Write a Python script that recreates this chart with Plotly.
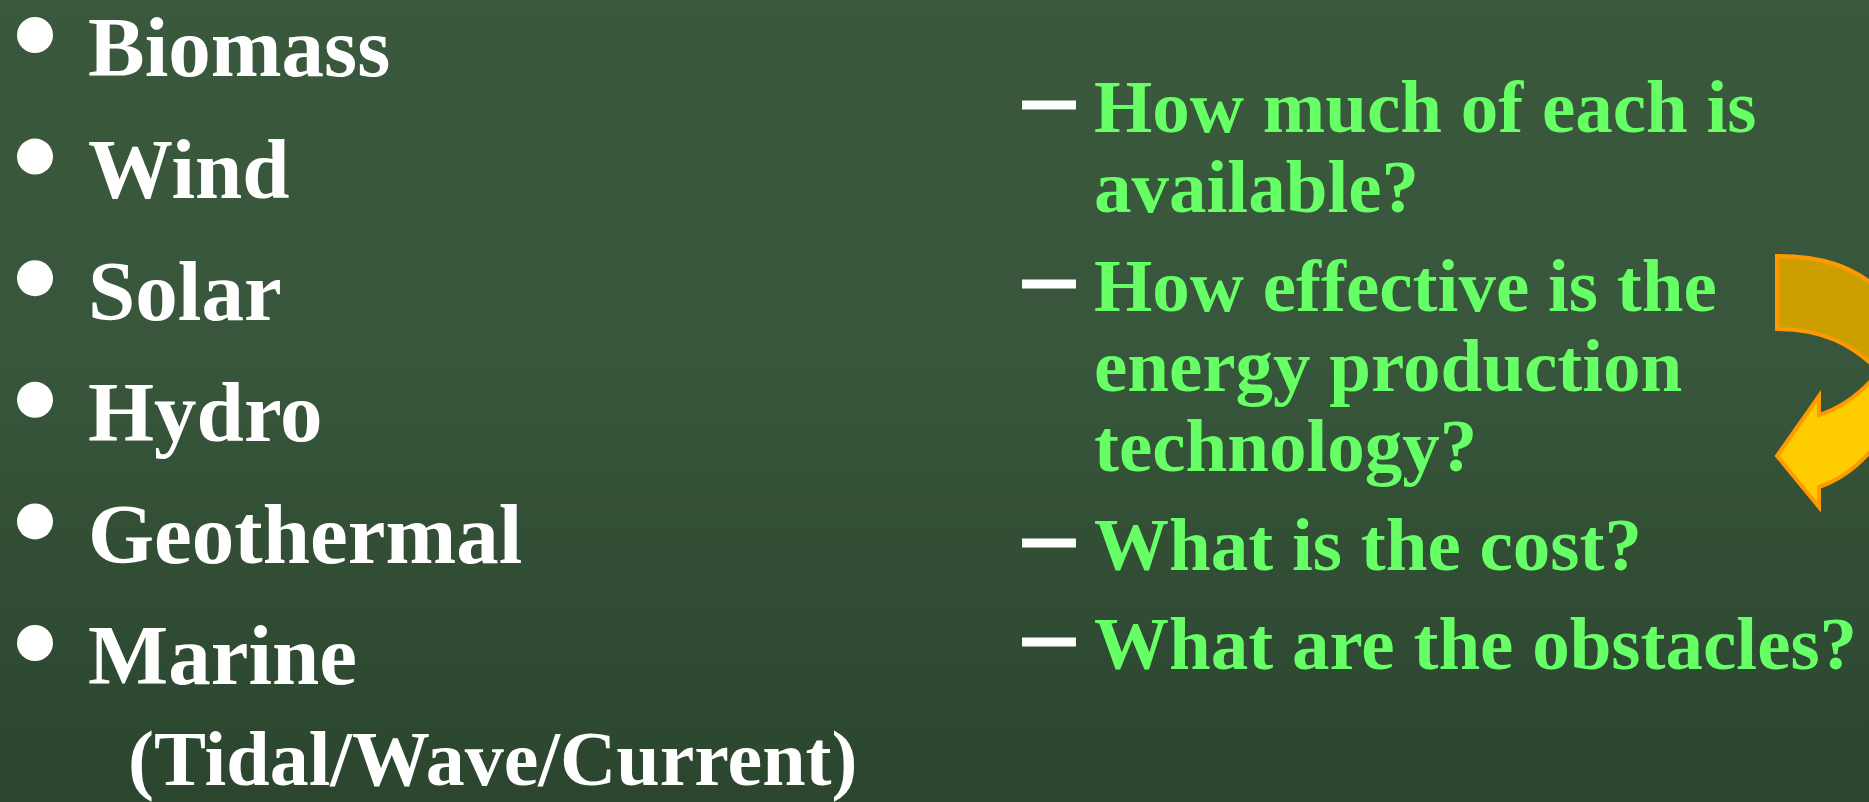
import plotly.graph_objects as go

# ---- content ----
LEFT_ITEMS = ["Biomass", "Wind", "Solar", "Hydro", "Geothermal", "Marine"]
LEFT_SUBLINE = "(Tidal/Wave/Current)"
QUESTIONS = [
    ["How much of each is", "available?"],
    ["How effective is the", "energy production", "technology?"],
    ["What is the cost?"],
    ["What are the obstacles?"],
]

# ---- layout constants (pixels) ----
W, H = 1869, 802
FONT = "Liberation Serif"
LEFT_F = 85
SUB_F = 78
RIGHT_F = 75
LEFT_X = 87
LEFT_BASE0 = 76
LEFT_STEP = 121.6
SUB_X = 127
SUB_BASE = 785
BULLET_X = 35
BULLET_UP = 41
RIGHT_X = 1093
RIGHT_BASE0 = 132
LINE_GAP = 80
ITEM_GAP = 99
DASH_X = 1049
DASH_UP = 27
ASC_DESC = 0.3375  # (ascent - descent)/2 of Liberation Serif

WHITE = "#ffffff"
GREEN = "#66ff66"

fig = go.Figure()

# background gradient
fig.add_trace(go.Scatter(
    x=[0, W, W, 0, 0], y=[0, 0, H, H, 0], mode="lines", fill="toself",
    line=dict(width=0), hoverinfo="skip", showlegend=False,
    fillgradient=dict(type="vertical", start=0, stop=H,
                      colorscale=[[0, "#39583c"], [0.45, "#37563b"], [1, "#2b452f"]]),
))

annotations = []

# left column
left_bases = [LEFT_BASE0 + i * LEFT_STEP for i in range(len(LEFT_ITEMS))]
for txt, b in zip(LEFT_ITEMS, left_bases):
    annotations.append(dict(x=LEFT_X, y=b - ASC_DESC * LEFT_F, text=txt, borderpad=0,
                            xanchor="left", yanchor="middle", showarrow=False,
                            font=dict(family=FONT, size=LEFT_F, color=WHITE, weight="bold")))
annotations.append(dict(x=SUB_X, y=SUB_BASE - ASC_DESC * SUB_F, text=LEFT_SUBLINE, borderpad=0,
                        xanchor="left", yanchor="middle", showarrow=False,
                        font=dict(family=FONT, size=SUB_F, color=WHITE, weight="bold")))
fig.add_trace(go.Scatter(
    x=[BULLET_X] * len(left_bases), y=[b - BULLET_UP for b in left_bases],
    mode="markers", marker=dict(symbol="circle", size=36, color=WHITE, line=dict(width=0)),
    hoverinfo="skip", showlegend=False))

# right column
b = RIGHT_BASE0
dash_ys = []
for qi, lines in enumerate(QUESTIONS):
    if qi > 0:
        b += ITEM_GAP
    dash_ys.append(b - DASH_UP)
    for li, line in enumerate(lines):
        if li > 0:
            b += LINE_GAP
        annotations.append(dict(x=RIGHT_X, y=b - ASC_DESC * RIGHT_F, text=line, borderpad=0,
                                xanchor="left", yanchor="middle", showarrow=False,
                                font=dict(family=FONT, size=RIGHT_F, color=GREEN, weight="bold")))
fig.add_trace(go.Scatter(
    x=[DASH_X] * len(dash_ys), y=dash_ys, mode="markers",
    marker=dict(symbol="line-ew", size=38.5, color=WHITE, line=dict(width=9, color=WHITE)),
    hoverinfo="skip", showlegend=False))

# curved arrow decoration (right edge)
ORANGE = "#ff9900"
back_band = ("M 1777 256 C 1822 256 1852 266 1880 290 "
             "L 1880 372 C 1852 344 1822 329 1777 329 Z")
front_shaft = ("M 1777 456 L 1819 396 L 1819 415 "
               "C 1840 408 1860 396 1880 370 "
               "L 1880 440 C 1860 466 1840 480 1819 487 "
               "L 1819 507 Z")
shapes = [
    dict(type="path", path=back_band, xref="x", yref="y", fillcolor="#cc9e00",
         line=dict(color=ORANGE, width=4), layer="above"),
    dict(type="path", path=front_shaft, xref="x", yref="y", fillcolor="#ffcc00",
         line=dict(color=ORANGE, width=4), layer="above"),
]

fig.update_layout(
    width=W, height=H, margin=dict(l=0, r=0, t=0, b=0),
    paper_bgcolor="#2f4b33", plot_bgcolor="rgba(0,0,0,0)",
    xaxis=dict(range=[0, W], visible=False, fixedrange=True),
    yaxis=dict(range=[H, 0], visible=False, fixedrange=True),
    annotations=annotations, shapes=shapes, showlegend=False,
)
fig.write_html("out.html", config={"displayModeBar": False},
               post_script="document.body.style.margin='0';document.body.style.overflow='hidden';"
                           "document.body.style.background='#2f4b33';")
